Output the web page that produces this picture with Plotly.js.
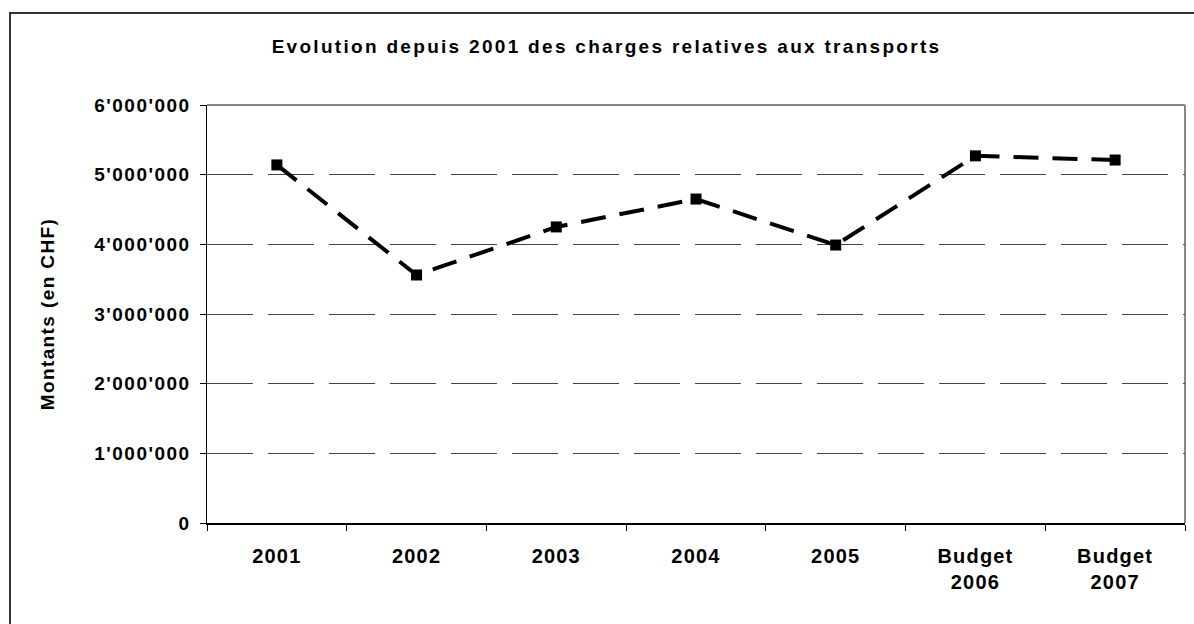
<!DOCTYPE html>
<html>
<head>
<meta charset="utf-8">
<script src="https://cdn.plot.ly/plotly-3.0.1.min.js"></script>
<style>
  html, body { margin: 0; padding: 0; background: #fff; }
  #wrap { position: relative; width: 1194px; height: 624px; overflow: hidden; }
  #chart { width: 1194px; height: 624px; }
  #frame { position: absolute; left: 9px; top: 12px; width: 1200px; height: 700px;
           border-top: 2px solid #333; border-left: 2px solid #333; pointer-events: none; }
  #chart text.gtitle { letter-spacing: 2.3px; }
  #chart text.ytitle { letter-spacing: 1.4px; }
  #chart g.ytick text { letter-spacing: 1.5px; }
  #chart g.xtick text { letter-spacing: 1.2px; }
</style>
</head>
<body>
<div id="wrap">
  <div id="chart"></div>
  <div id="frame"></div>
</div>
<script>
const categories = ["2001", "2002", "2003", "2004", "2005", "Budget<br>2006", "Budget<br>2007"];
const montants = [5140000, 3560000, 4250000, 4650000, 3990000, 5270000, 5210000];
const yTicks = [0, 1000000, 2000000, 3000000, 4000000, 5000000, 6000000];

const FONT = "Liberation Sans, Arial, sans-serif";

const trace = {
  x: categories,
  y: montants,
  type: "scatter",
  mode: "lines+markers",
  line: { color: "#000", width: 4, dash: "25px,14px" },
  marker: { symbol: "square", size: 11, color: "#000" },
  cliponaxis: false,
  hoverinfo: "x+y"
};

const layout = {
  width: 1194,
  height: 624,
  margin: { l: 207, r: 9, t: 105, b: 101 },
  paper_bgcolor: "#fff",
  plot_bgcolor: "#fff",
  separators: ".'",
  showlegend: false,
  title: {
    text: "<b>Evolution depuis 2001 des charges relatives aux transports</b>",
    font: { family: FONT, size: 19, color: "#000" },
    x: 0.508, xanchor: "center",
    y: 0.925, yanchor: "middle"
  },
  xaxis: {
    type: "category",
    range: [-0.5, 6.5],
    showgrid: false,
    showline: true, linecolor: "#000", linewidth: 1.5,
    ticks: "outside", ticklen: 6, tickcolor: "#000", tickwidth: 1,
    tickson: "boundaries",
    ticklabelstandoff: 14,
    tickfont: { family: FONT, size: 20, color: "#000", weight: "bold" },
    zeroline: false,
    fixedrange: true
  },
  yaxis: {
    range: [0, 6000000],
    tickvals: yTicks,
    tickformat: ",d",
    showgrid: true,
    gridcolor: "#444", gridwidth: 1, griddash: "46px,15px",
    showline: true, linecolor: "#000", linewidth: 1.5,
    ticks: "outside", ticklen: 6, tickcolor: "#000", tickwidth: 1,
    ticklabelstandoff: 5,
    tickfont: { family: FONT, size: 19, color: "#000", weight: "bold" },
    zeroline: false,
    title: {
      text: "<b>Montants (en CHF)</b>",
      font: { family: FONT, size: 19, color: "#000" },
      standoff: 48
    },
    fixedrange: true
  },
  shapes: [
    { type: "line", xref: "paper", yref: "paper", x0: 0, x1: 1, y0: 1, y1: 1,
      line: { color: "#888", width: 2 }, layer: "below" },
    { type: "line", xref: "paper", yref: "paper", x0: 1, x1: 1, y0: 0, y1: 1,
      line: { color: "#888", width: 2 }, layer: "below" }
  ]
};

Plotly.newPlot("chart", [trace], layout, { displayModeBar: false, staticPlot: true });
</script>
</body>
</html>
